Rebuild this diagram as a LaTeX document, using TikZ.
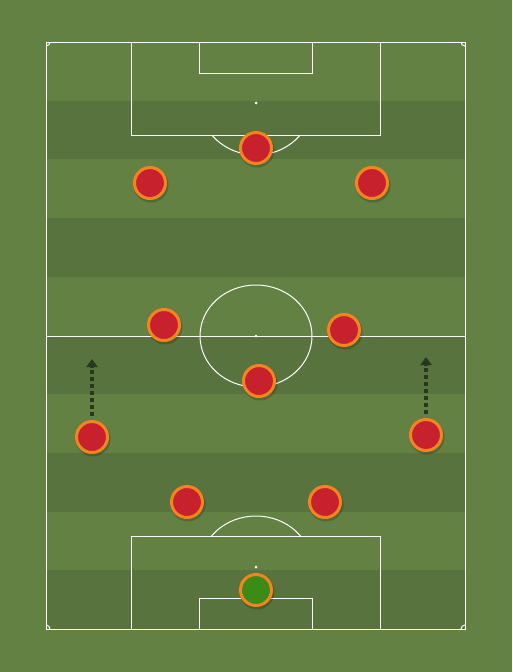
\documentclass[tikz,border=0pt]{standalone}
\usetikzlibrary{arrows.meta}
\definecolor{pitchlight}{RGB}{98,129,66}
\definecolor{pitchdark}{RGB}{88,115,61}
\definecolor{kitred}{RGB}{200,33,46}
\definecolor{kitorange}{RGB}{245,132,31}
\definecolor{kitgreen}{RGB}{58,140,22}
\definecolor{arrowdark}{RGB}{40,55,30}
\tikzset{
  pline/.style={draw=white, line width=1pt},
  player/.style={circle, minimum size=31pt, inner sep=0pt, fill=kitred, draw=kitorange, line width=3pt},
  keeper/.style={player, fill=kitgreen},
  runarrow/.style={draw=arrowdark, line width=3.2pt, dash pattern=on 4pt off 3pt, -{Triangle[length=8pt,width=11pt]}},
}
\begin{document}
\begin{tikzpicture}[x=1pt,y=-1pt]
\useasboundingbox (0,0) rectangle (512,672);
\fill[pitchlight] (0,0) rectangle (512,672);
% stripes
\foreach \i in {1,3,5,7,9} {
  \fill[pitchdark] (46,{42+\i*58.7}) rectangle (465,{42+(\i+1)*58.7});
}
% outer lines
\draw[pline] (46,42) rectangle (465,629);
\draw[pline] (46,336) -- (465,336);
\draw[pline] (256,336) ellipse [x radius=56, y radius=51];
\fill[white] (256,336) circle (1.5);
% top penalty area
\draw[pline] (131,42) -- (131,135) -- (380,135) -- (380,42);
\draw[pline] (199,42) -- (199,73) -- (312,73) -- (312,42);
\fill[white] (256,103) circle (1.5);
\begin{scope}
  \clip (0,135) rectangle (512,200);
  \draw[pline] (256,103) ellipse [x radius=56, y radius=52];
\end{scope}
% bottom penalty area
\draw[pline] (131,629) -- (131,536) -- (380,536) -- (380,629);
\draw[pline] (199,629) -- (199,598) -- (312,598) -- (312,629);
\fill[white] (256,567) circle (1.5);
\begin{scope}
  \clip (0,480) rectangle (512,536);
  \draw[pline] (256,567) ellipse [x radius=56, y radius=51];
\end{scope}
% corner arcs
\begin{scope}
  \clip (46,42) rectangle (465,629);
  \draw[pline] (46,42) circle (4);
  \draw[pline] (465,42) circle (4);
  \draw[pline] (46,629) circle (4);
  \draw[pline] (465,629) circle (4);
\end{scope}
% shadows
\foreach \x/\y in {256/148,150/183,372/183,164/325,344/330,259/381,92/437,426/435,187/502,325/502,256/590} {
  \fill[black, opacity=0.18] (\x+1,\y+2) circle (17.5);
}
% players
\node[player] (p1) at (256,148) {};
\node[player] (p2) at (150,183) {};
\node[player] (p3) at (372,183) {};
\node[player] (p4) at (164,325) {};
\node[player] (p5) at (344,330) {};
\node[player] (p6) at (259,381) {};
\node[player] (p7) at (92,437) {};
\node[player] (p8) at (426,435) {};
\node[player] (p9) at (187,502) {};
\node[player] (p10) at (325,502) {};
\node[keeper] (gk) at (256,590) {};
% runs
\coordinate (r1s) at (92,416);
\coordinate (r1e) at (92,359);
\coordinate (r2s) at (426,414);
\coordinate (r2e) at (426,357);
\draw[runarrow] (r1s) -- (r1e);
\draw[runarrow] (r2s) -- (r2e);
\end{tikzpicture}
\end{document}
